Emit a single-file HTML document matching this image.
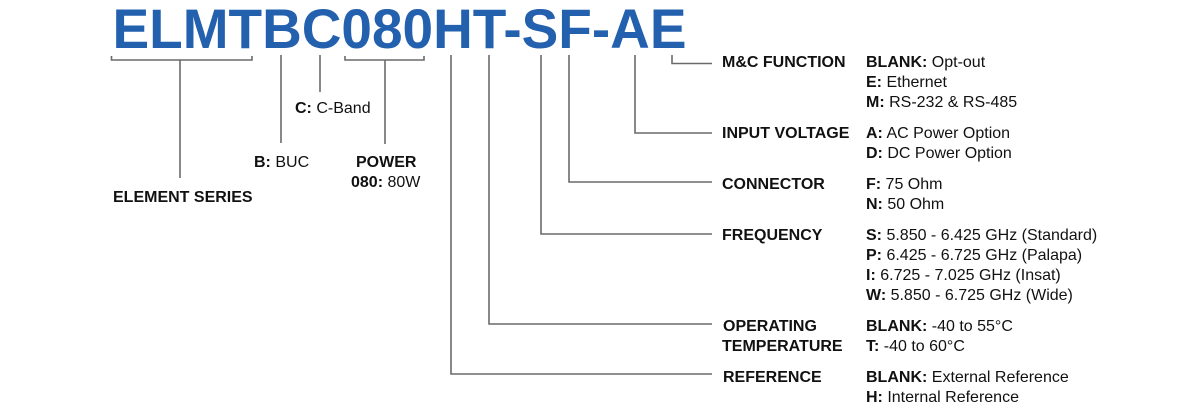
<!DOCTYPE html>
<html>
<head>
<meta charset="utf-8">
<style>
html,body{margin:0;padding:0;background:#fff;}
body{width:1200px;height:410px;overflow:hidden;}
svg{display:block;}
text{font-family:"Liberation Sans",Arial,sans-serif;font-size:16px;fill:#111;}
.b{font-weight:bold;}
</style>
</head>
<body>
<svg width="1200" height="410" viewBox="0 0 1200 410" xmlns="http://www.w3.org/2000/svg">
<text x="112.5" y="48" textLength="574" lengthAdjust="spacingAndGlyphs" style="font-size:56px;font-weight:bold;fill:#2361ae;">ELMTBC080HT-SF-AE</text>

<g fill="none" stroke="#6a6a6a" stroke-width="1.6">
  <polyline points="111.5,56 111.5,60 252,60 252,56"/>
  <line x1="180" y1="60" x2="180" y2="178"/>
  <line x1="281" y1="55" x2="281" y2="143"/>
  <line x1="320" y1="55" x2="320" y2="92"/>
  <polyline points="345,56 345,60 424,60 424,56"/>
  <line x1="385" y1="60" x2="385" y2="144"/>
  <polyline points="672,55 672,63.5 712,63.5"/>
  <polyline points="635,55 635,133 712,133"/>
  <polyline points="569,55 569,182 712,182"/>
  <polyline points="541,55 541,234 712,234"/>
  <polyline points="489,55 489,324 712,324"/>
  <polyline points="451,55 451,374 712,374"/>
</g>

<text x="295" y="113"><tspan class="b">C:</tspan> C-Band</text>
<text x="254" y="167"><tspan class="b">B:</tspan> BUC</text>
<text x="356" y="167" class="b">POWER</text>
<text x="351" y="187"><tspan class="b">080:</tspan> 80W</text>
<text x="113" y="202" class="b">ELEMENT SERIES</text>

<text x="722" y="67" class="b">M&amp;C FUNCTION</text>
<text x="722" y="138" class="b">INPUT VOLTAGE</text>
<text x="722" y="189" class="b">CONNECTOR</text>
<text x="722" y="240" class="b">FREQUENCY</text>
<text x="723" y="331" class="b">OPERATING</text>
<text x="722" y="351" class="b">TEMPERATURE</text>
<text x="723" y="382" class="b">REFERENCE</text>

<text x="866" y="67"><tspan class="b">BLANK:</tspan> Opt-out</text>
<text x="866" y="87"><tspan class="b">E:</tspan> Ethernet</text>
<text x="866" y="107"><tspan class="b">M:</tspan> RS-232 &amp; RS-485</text>

<text x="866" y="138"><tspan class="b">A:</tspan> AC Power Option</text>
<text x="866" y="158"><tspan class="b">D:</tspan> DC Power Option</text>

<text x="866" y="189"><tspan class="b">F:</tspan> 75 Ohm</text>
<text x="866" y="209"><tspan class="b">N:</tspan> 50 Ohm</text>

<text x="866" y="240"><tspan class="b">S:</tspan> 5.850 - 6.425 GHz (Standard)</text>
<text x="866" y="260"><tspan class="b">P:</tspan> 6.425 - 6.725 GHz (Palapa)</text>
<text x="866" y="280"><tspan class="b">I:</tspan> 6.725 - 7.025 GHz (Insat)</text>
<text x="866" y="300"><tspan class="b">W:</tspan> 5.850 - 6.725 GHz (Wide)</text>

<text x="866" y="331"><tspan class="b">BLANK:</tspan> -40 to 55°C</text>
<text x="866" y="351"><tspan class="b">T:</tspan> -40 to 60°C</text>

<text x="866" y="382"><tspan class="b">BLANK:</tspan> External Reference</text>
<text x="866" y="402"><tspan class="b">H:</tspan> Internal Reference</text>
</svg>
</body>
</html>
